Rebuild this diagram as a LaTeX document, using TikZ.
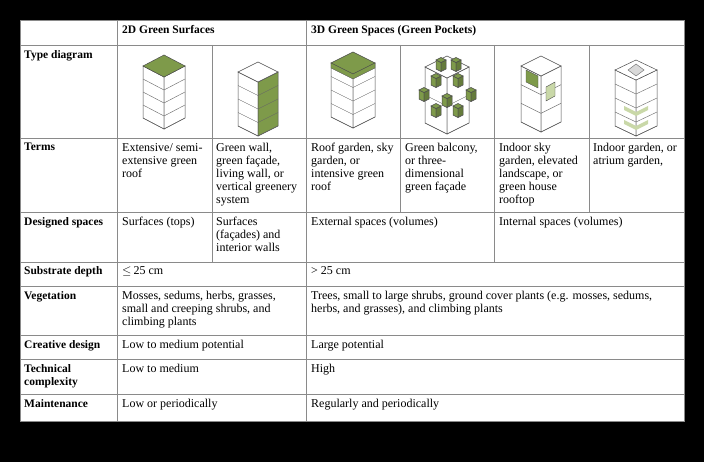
\documentclass[tikz,border=0pt]{standalone}
\usepackage{fontspec}
\setmainfont{Liberation Serif}
\usepackage{amssymb}
\begin{document}
\definecolor{gr}{HTML}{7E9A4A}
\definecolor{lg}{HTML}{C9D8A8}
\definecolor{ln}{HTML}{8A8A8A}
\newcommand\isobox[9]{% cx ty w h H top left right floors
 \draw[fill=#6,draw=black!70,line width=0.5pt] (#1-#3,#2) -- (#1,#2+#4) -- (#1,#2+#4+#5) -- (#1-#3,#2+#5) -- cycle;
 \draw[fill=#8,draw=black!70,line width=0.5pt] (#1+#3,#2) -- (#1,#2+#4) -- (#1,#2+#4+#5) -- (#1+#3,#2+#5) -- cycle;
 \draw[fill=#7,draw=black!70,line width=0.5pt] (#1,#2-#4) -- (#1+#3,#2) -- (#1,#2+#4) -- (#1-#3,#2) -- cycle;
 \foreach \k in {1,...,#9}{\pgfmathsetmacro\dy{#5*\k/#9}
  \draw[black!60,line width=0.4pt] (#1-#3,#2+\dy) -- (#1,#2+#4+\dy) -- (#1+#3,#2+\dy);}
}
\begin{tikzpicture}[x=1pt,y=-1pt,
 cell/.style={anchor=north west,inner sep=0pt,align=left,font=\fontsize{12}{13}\selectfont},
 hd/.style={cell,font=\fontsize{11.5}{13}\selectfont\bfseries},
 rule/.style={draw=ln,line width=0.8pt}]
\fill[black] (0,0) rectangle (704,462);
\fill[white] (20,20) rectangle (684,421);
% grid
\draw[rule] (20,20) rectangle (684,421);
\foreach \y in {45,138,212,262,286,335,359,394} \draw[rule] (20,\y) -- (684,\y);
\draw[rule] (117,20) -- (117,421);
\draw[rule] (306,20) -- (306,421);
\draw[rule] (212,45) -- (212,262);
\draw[rule] (494,45) -- (494,262);
\draw[rule] (400,45) -- (400,212);
\draw[rule] (589,45) -- (589,212);
% header
\node[hd] (h1) at (122,25) {2D Green Surfaces};
\node[hd] (h2) at (311,25) {3D Green Spaces (Green Pockets)};
% row labels
\node[hd] (r1) at (24,50) {Type diagram};
\node[hd] (r2) at (24,143) {Terms};
\node[hd] (r3) at (24,217) {Designed spaces};
\node[hd] (r4) at (24,266) {Substrate depth};
\node[hd] (r5) at (24,291) {Vegetation};
\node[hd] (r6) at (24,340) {Creative design};
\node[hd,text width=90pt] (r7) at (24,364) {Technical\\complexity};
\node[hd] (r8) at (24,399) {Maintenance};
% terms
\node[cell] (t1) at (122,143) {Extensive/ semi-\\extensive green\\roof};
\node[cell] (t2) at (216,143) {Green wall,\\green façade,\\living wall, or\\vertical greenery\\system};
\node[cell] (t3) at (311,143) {Roof garden, sky\\garden, or\\intensive green\\roof};
\node[cell] (t4) at (405,143) {Green balcony,\\or three-\\dimensional\\green façade};
\node[cell] (t5) at (499,143) {Indoor sky\\garden, elevated\\landscape, or\\green house\\rooftop};
\node[cell] (t6) at (593,143) {Indoor garden, or\\atrium garden,};
\node[cell] (d1) at (122,217) {Surfaces (tops)};
\node[cell] (d2) at (216,217) {Surfaces\\(façades) and\\interior walls};
\node[cell] (d3) at (311,217) {External spaces (volumes)};
\node[cell] (d4) at (499,217) {Internal spaces (volumes)};
\node[cell] (s1) at (122,266) {$\leq$\,25 cm};
\node[cell] (s2) at (311,266) {> 25 cm};
\node[cell] (v1) at (122,291) {Mosses, sedums, herbs, grasses,\\small and creeping shrubs, and\\climbing plants};
\node[cell] (v2) at (311,291) {Trees, small to large shrubs, ground cover plants (e.g. mosses, sedums,\\herbs, and grasses), and climbing plants};
\node[cell] (c1) at (122,340) {Low to medium potential};
\node[cell] (c2) at (311,340) {Large potential};
\node[cell] (k1) at (122,364) {Low to medium};
\node[cell] (k2) at (311,364) {High};
\node[cell] (m1) at (122,399) {Low or periodically};
\node[cell] (m2) at (311,399) {Regularly and periodically};
% diagrams
\isobox{164}{66}{21}{11}{52}{white}{gr}{white}{4}
\isobox{258}{72}{20}{10}{54}{white}{white}{gr}{4}
\isobox{353}{63}{22}{11}{54}{white}{gr}{white}{4}
\draw[fill=gr,draw=black!70] (331,63) -- (353,74) -- (375,63) -- (375,68) -- (353,79) -- (331,68) -- cycle;
% balcony
\isobox{447}{67}{22}{11}{56}{white}{white}{white}{2}
\foreach \bx/\by in {436/76,458/76,424/90,471/90,447/96,436/106,458/106,441/60,456/60}{
 \isobox{\bx}{\by}{5}{2.5}{9}{gr}{gr}{gr!80!black}{1}}
% indoor sky
\isobox{541}{66}{20}{10}{56}{white}{white}{white}{3}
\draw[fill=gr,draw=black!70] (526,70) -- (538,76) -- (538,88) -- (526,82) -- cycle;
\draw[fill=lg,draw=black!70] (546,87) -- (555,82) -- (555,96) -- (546,101) -- cycle;
% atrium
\isobox{636}{70}{21}{10}{56}{white}{white}{white}{4}
\draw[fill=gray!30,draw=black!60] (636,64) -- (644,70) -- (636,76) -- (628,70) -- cycle;
\fill[lg] (624,106) -- (636,112) -- (648,106) -- (648,110) -- (636,116) -- (624,110) -- cycle;
\fill[lg] (624,120) -- (636,126) -- (648,120) -- (648,124) -- (636,130) -- (624,124) -- cycle;
\end{tikzpicture}
\end{document}
